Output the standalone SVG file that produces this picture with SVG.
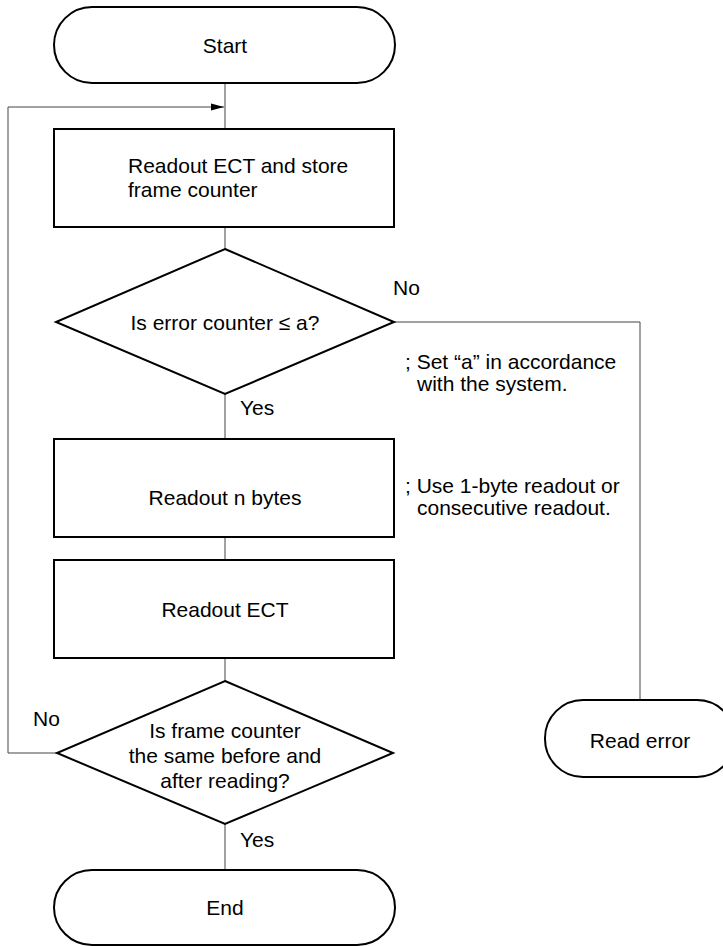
<svg xmlns="http://www.w3.org/2000/svg" width="723" height="946" viewBox="0 0 723 946">
<style>
.shape{fill:#fff;stroke:#000;stroke-width:2}
.conn{fill:none;stroke:#444;stroke-width:1}
text{font-family:"Liberation Sans",Arial,sans-serif;font-size:21px;fill:#000}
.c{text-anchor:middle}
</style>
<defs>
<marker id="arr" markerWidth="14" markerHeight="8" refX="13" refY="4" orient="auto" markerUnits="userSpaceOnUse">
<path d="M0,0.5 L13,4 L0,7.5 Z" fill="#000"/>
</marker>
</defs>
<rect width="723" height="946" fill="#fff"/>
<g id="connectors">
<line class="conn" x1="225" y1="83" x2="225" y2="129"/>
<line class="conn" x1="225" y1="227" x2="225" y2="249"/>
<line class="conn" x1="225" y1="394" x2="225" y2="439"/>
<line class="conn" x1="225" y1="537" x2="225" y2="560"/>
<line class="conn" x1="225" y1="658" x2="225" y2="681"/>
<line class="conn" x1="225" y1="824" x2="225" y2="870"/>
<polyline class="conn" points="394,322 640,322 640,700"/>
<polyline class="conn" points="57,753 8,753 8,107 224,107" marker-end="url(#arr)"/>
<text x="393" y="295">No</text>
<text x="240" y="415">Yes</text>
<text x="33" y="726">No</text>
<text x="240" y="847">Yes</text>
</g>
<g id="start">
<rect class="shape" x="54" y="7" width="341" height="76" rx="38" ry="38"/>
<text class="c" x="225" y="53">Start</text>
</g>
<g id="readout-ect-store">
<rect class="shape" x="54" y="129" width="340" height="98"/>
<text x="128" y="173">Readout ECT and store</text>
<text x="128" y="197">frame counter</text>
</g>
<g id="decision-error">
<polygon class="shape" points="225,249 394,322 225,394 56,322"/>
<text class="c" x="225" y="330">Is error counter ≤ a?</text>
</g>
<g id="note-a">
<text x="405" y="369">; Set “a” in accordance</text>
<text x="417" y="391">with the system.</text>
</g>
<g id="readout-n-bytes">
<rect class="shape" x="54" y="439" width="340" height="98"/>
<text class="c" x="225" y="505">Readout n bytes</text>
</g>
<g id="note-readout">
<text x="405" y="493">; Use 1-byte readout or</text>
<text x="417" y="515">consecutive readout.</text>
</g>
<g id="readout-ect">
<rect class="shape" x="54" y="560" width="340" height="98"/>
<text class="c" x="225" y="617">Readout ECT</text>
</g>
<g id="decision-frame">
<polygon class="shape" points="225,681 393,753 225,824 57,753"/>
<text class="c" x="225" y="738">Is frame counter</text>
<text class="c" x="225" y="763">the same before and</text>
<text class="c" x="225" y="788">after reading?</text>
</g>
<g id="read-error">
<rect class="shape" x="545" y="700" width="190" height="77" rx="38" ry="38"/>
<text class="c" x="640" y="748">Read error</text>
</g>
<g id="end">
<rect class="shape" x="54" y="870" width="341" height="75" rx="38" ry="38"/>
<text class="c" x="225" y="915">End</text>
</g>
</svg>
